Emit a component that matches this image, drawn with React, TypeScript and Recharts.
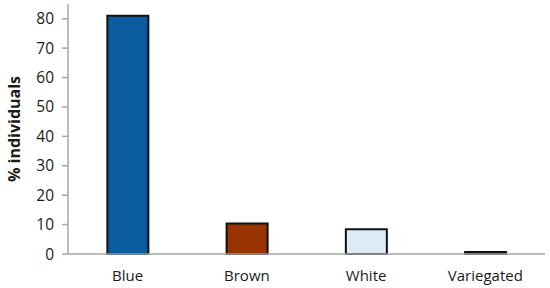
import { BarChart, Bar, XAxis, YAxis, Cell, Label } from 'recharts'

const categories = ['Blue', 'Brown', 'White', 'Variegated']
const individuals = [81, 10.4, 8.4, 0.7]
const yTicks = [0, 10, 20, 30, 40, 50, 60, 70, 80]

const barColors = ['#0b5c9e', '#993300', '#ddebf7', '#111111']

const data = categories.map((name, i) => ({ name, value: individuals[i] }))

const font = '"Open Sans", "Noto Sans", sans-serif'

// rotated axis title, kept inside the left edge
const YTitle = ({ viewBox }: { viewBox?: { y: number; height: number } }) => {
  const cy = viewBox ? viewBox.y + viewBox.height / 2 : 133
  return (
    <text
      x={14}
      y={cy}
      transform={`rotate(-90 14 ${cy})`}
      textAnchor="middle"
      dominantBaseline="central"
      style={{ fill: '#1a1a1a', fontSize: 16, fontWeight: 700, fontFamily: font }}
    >
      % individuals
    </text>
  )
}

export default function App() {
  return (
    <div style={{ position: 'absolute', left: 0, top: 0, width: 550, height: 288, background: '#fff' }}>
      <BarChart
        width={550}
        height={288}
        data={data}
        margin={{ top: 4, right: 5, left: 0, bottom: 0 }}
        barCategoryGap="33%"
      >
        <XAxis
          dataKey="name"
          tick={{ fill: '#1a1a1a', fontSize: 15, fontFamily: font }}
          axisLine={{ stroke: '#a6a6a6', strokeWidth: 1.5 }}
          tickLine={false}
          height={34}
          dy={8}
        />
        <YAxis
          domain={[0, 85]}
          ticks={yTicks}
          interval={0}
          width={68}
          tick={{ fill: '#1a1a1a', fontSize: 15.5, fontFamily: font }}
          axisLine={{ stroke: '#a6a6a6', strokeWidth: 1.5 }}
          tickLine={{ stroke: '#a6a6a6', strokeWidth: 1.5 }}
          tickSize={6}
          tickMargin={8}
        >
          <Label content={<YTitle />} />
        </YAxis>
        <Bar dataKey="value" stroke="#111" strokeWidth={2} isAnimationActive={false}>
          {data.map((d, i) => (
            <Cell key={d.name} fill={barColors[i]} />
          ))}
        </Bar>
      </BarChart>
    </div>
  )
}
